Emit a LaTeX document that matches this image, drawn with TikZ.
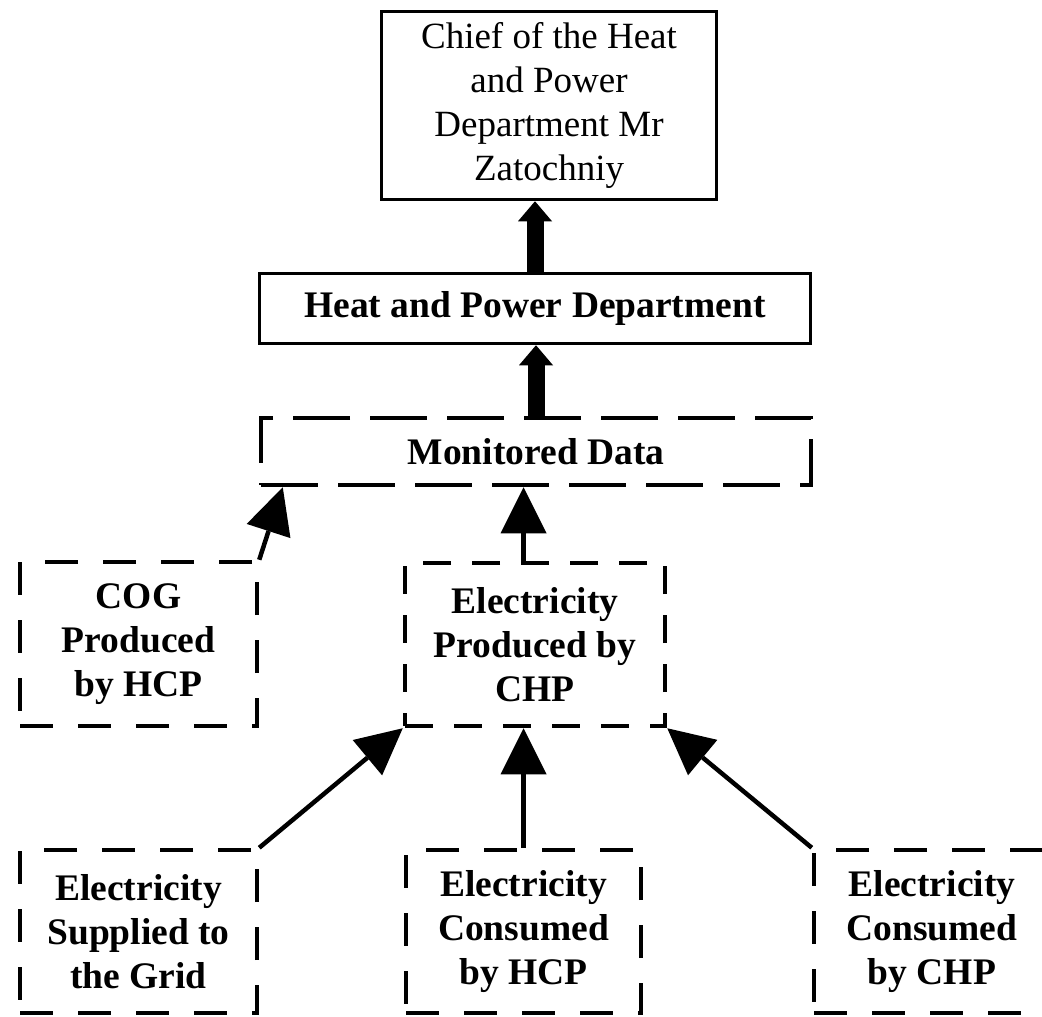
\documentclass[tikz,border=0pt]{standalone}
\usepackage{fontspec}
\setmainfont{Liberation Serif}
\usetikzlibrary{arrows.meta,calc}
\begin{document}
\begin{tikzpicture}[x=1pt,y=-1pt,
  solidbox/.style={draw,line width=3.5pt,inner sep=0pt,align=center},
  dbox/.style={draw,line width=4.5pt,inner sep=0pt,align=center,
    font=\fontsize{37.5}{44}\selectfont\bfseries,dash pattern=on 33pt off 25pt},
  bigarrow/.style={line width=17pt,-{Triangle[length=20pt,width=34pt,line width=0pt]}},
  thinarrow/.style={line width=4.5pt,-{Triangle[length=46pt,width=46pt,line width=0pt]}}
]
\useasboundingbox (0,0) rectangle (1042,1017);
\clip (0,0) rectangle (1042,1017);

\node[solidbox,minimum width=335pt,minimum height=188pt,
  font=\fontsize{37}{44}\selectfont] (chief) at (549,105.5)
  {\raisebox{-3pt}{\begin{tabular}{@{}c@{}}Chief of the Heat\\and Power\\Department Mr\\Zatochniy\end{tabular}}};
\node[solidbox,minimum width=551pt,minimum height=70pt,
  font=\fontsize{37.5}{44}\selectfont\bfseries] (hpd) at (535,308.5)
  {Heat and Power Department};
\node[dbox,dash pattern=on 57pt off 20pt,minimum width=550pt,minimum height=67pt] (md) at (536,451.5)
  {Monitored Data};
\node[dbox,minimum width=237pt,minimum height=164pt] (cog) at (138.5,644)
  {COG\\Produced\\by HCP};
\node[dbox,dash pattern=on 28pt off 21pt,minimum width=260pt,minimum height=163pt] (chp) at (535,644.5)
  {Electricity\\Produced by\\CHP};
\node[dbox,minimum width=237pt,minimum height=163pt] (grid) at (138.5,931.5)
  {Electricity\\Supplied to\\the Grid};
\node[dbox,minimum width=235pt,minimum height=163pt] (hcp) at (523.5,931.5)
  {Electricity\\Consumed\\by HCP};
\node[dbox,minimum width=236pt,minimum height=163pt] (chpc) at (932,931.5)
  {Electricity\\Consumed\\by CHP};

\draw[bigarrow] (hpd.north) -- (hpd.north |- chief.south);
\draw[bigarrow] (md.north) -- (md.north |- hpd.south);
\draw[thinarrow] (cog.north east) -- ([xshift=24pt]md.south west);
\draw[thinarrow] (chp.north -| hcp.north) -- (hcp.north |- md.south);
\draw[thinarrow] (grid.north east) -- (chp.south west);
\draw[thinarrow] (hcp.north) -- (hcp.north |- chp.south);
\draw[thinarrow] (chpc.north west) -- (chp.south east);
\end{tikzpicture}
\end{document}
